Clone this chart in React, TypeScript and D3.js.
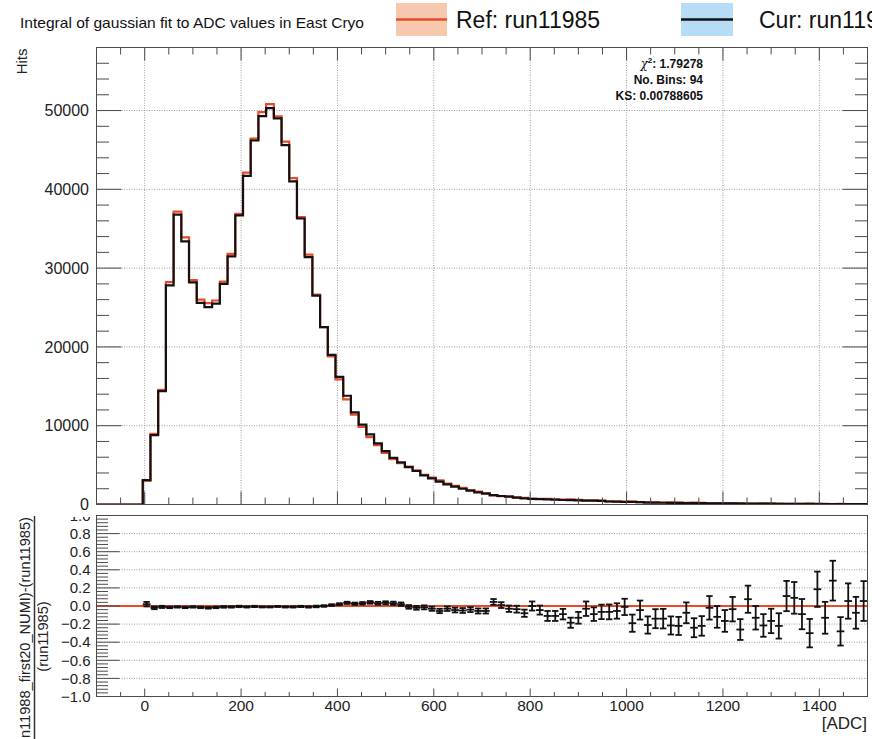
import React from 'react';
import * as d3 from 'd3';

const W = 872;
const H = 739;
const FONT = '"Liberation Sans", Arial, Helvetica, sans-serif';

// Binning: 100 bins of 16 ADC over [-100, 1500); bins below -4 are empty.
const binLow = -100;
const binWidth = 16;
const nBins = 100;
const firstFilled = 6;

// Current run counts per filled bin (bin [-4,12) first).
const curCounts = [
  3100, 8800, 14400, 27800, 36800, 33400, 28200, 25600, 25050, 25500,
  28000, 31500, 36700, 41700, 46200, 49300, 50300, 49000, 45600, 41000,
  36300, 31400, 26500, 22500, 19000, 16200, 13800, 11700, 10150, 8900,
  7750, 6780, 5930, 5350, 4750, 4250, 3700, 3320, 2900, 2560,
  2260, 2000, 1750, 1540, 1370, 1200, 1080, 990, 870, 780,
  720, 680, 640, 600, 570, 545, 520, 500, 480, 455,
  380, 360, 340, 320, 300, 250, 235, 220, 205, 195,
  185, 175, 165, 155, 147, 140, 132, 125, 118, 112,
  106, 100, 95, 88, 82, 77, 72, 68, 64, 60,
  57, 54, 51, 48,
];

// (cur - ref) / ref per filled bin.
const ratioValues = [
  0.02, -0.02, -0.01, -0.015, -0.01, -0.015, -0.01, -0.015, -0.02, -0.015,
  -0.01, -0.01, -0.005, -0.01, -0.005, -0.01, -0.01, -0.005, -0.01, -0.01,
  -0.005, -0.01, -0.005, 0.0, 0.01, 0.02, 0.035, 0.025, 0.03, 0.04,
  0.03, 0.035, 0.03, 0.02, -0.01, -0.02, -0.015, -0.03, -0.055, -0.03,
  -0.045, -0.05, -0.04, -0.055, -0.055, 0.045, 0.01, -0.03, -0.035, -0.08,
  0.0, -0.045, -0.11, -0.11, -0.09, -0.185, -0.13, -0.03, -0.09, -0.065,
  -0.065, -0.055, -0.01, -0.19, -0.045, -0.21, -0.14, -0.14, -0.215, -0.22,
  -0.075, -0.24, -0.22, -0.02, -0.12, -0.165, -0.035, -0.26, 0.075, -0.13,
  -0.215, -0.165, -0.22, 0.11, 0.09, -0.09, -0.3, 0.185, -0.13, 0.28,
  -0.28, 0.055, -0.075, 0.055,
];

// Uncertainty on the ratio per filled bin.
const ratioErrors = [
  0.025, 0.015, 0.012, 0.009, 0.008, 0.008, 0.008, 0.009, 0.009, 0.009,
  0.009, 0.008, 0.008, 0.007, 0.007, 0.006, 0.006, 0.006, 0.007, 0.007,
  0.007, 0.008, 0.009, 0.009, 0.01, 0.011, 0.012, 0.013, 0.014, 0.015,
  0.016, 0.017, 0.018, 0.019, 0.02, 0.021, 0.022, 0.023, 0.024, 0.025,
  0.026, 0.027, 0.027, 0.028, 0.028, 0.032, 0.032, 0.035, 0.038, 0.04,
  0.05, 0.05, 0.055, 0.055, 0.058, 0.056, 0.065, 0.08, 0.075, 0.08,
  0.082, 0.085, 0.09, 0.095, 0.105, 0.095, 0.105, 0.108, 0.1, 0.1,
  0.115, 0.105, 0.108, 0.13, 0.12, 0.12, 0.135, 0.115, 0.15, 0.13,
  0.125, 0.135, 0.14, 0.167, 0.175, 0.167, 0.157, 0.195, 0.176, 0.22,
  0.157, 0.195, 0.176, 0.22,
];

const xTickValues = [0, 200, 400, 600, 800, 1000, 1200, 1400];
const hitsTickValues = [0, 10000, 20000, 30000, 40000, 50000];
const ratioTickValues = [-1.0, -0.8, -0.6, -0.4, -0.2, 0.0, 0.2, 0.4, 0.6, 0.8, 1.0];

const titleText = 'Integral of gaussian fit to ADC values in East Cryo';
const refLabel = 'Ref: run11985';
const curLabel = 'Cur: run11988_first20_NUMI';
const statsChi2 = '1.79278';
const statsBins = '94';
const statsKS = '0.00788605';
const ratioTitleNum = '(run11988_first20_NUMI)-(run11985)';
const ratioTitleDen = '(run11985)';

const RED = '#ea4a28';
const INK = '#111';
const AXIS = '#4a4a4a';
const GRID = '#9c9c9c';

// Frame geometry
const fL = 96.5;
const fR = 867.5;
const topY0 = 47.5;
const topY1 = 504.5;
const botY0 = 515.5;
const botY1 = 696.5;

function range(a: number, b: number, step: number) {
  const out: number[] = [];
  for (let v = a; v <= b + 1e-9; v += step) out.push(Math.round(v * 1e6) / 1e6);
  return out;
}

export default function App() {
  const x = d3.scaleLinear().domain([-100, 1500]).range([fL, fR]);
  const yTop = d3.scaleLinear().domain([0, 58000]).range([topY1, topY0]);
  const yBot = d3.scaleLinear().domain([-1, 1]).range([botY1, botY0]);

  const refCounts = curCounts.map((c, i) => c / (1 + ratioValues[i]));

  const fullBins = (vals: number[]) => {
    const all = new Array(nBins).fill(0);
    vals.forEach((v, i) => (all[firstFilled + i] = v));
    return all;
  };
  const stepPath = (vals: number[]) => {
    const all = fullBins(vals);
    const pts: [number, number][] = all.map((v, k) => [binLow + k * binWidth, v]);
    pts.push([binLow + nBins * binWidth, all[nBins - 1]]);
    return d3
      .line<[number, number]>()
      .x((d) => x(d[0]))
      .y((d) => yTop(d[1]))
      .curve(d3.curveStepAfter)(pts) as string;
  };

  const xMinor = range(-100, 1500, 50);
  const hitsMinor = range(0, 56000, 2000);
  const ratioMinor = range(-1, 1, 0.04);
  const fmtRatio = d3.format('.1f');

  const centers = curCounts.map((_, i) => binLow + (firstFilled + i) * binWidth + binWidth / 2);

  return (
    <svg
      width={W}
      height={H}
      viewBox={`0 0 ${W} ${H}`}
      style={{ position: 'absolute', left: 0, top: 0, background: '#fff' }}
      fontFamily={FONT}
    >
      <defs>
        <clipPath id="botPadClip">
          <rect x={0} y={517} width={W} height={H - 517} />
        </clipPath>
        <clipPath id="topFrameClip">
          <rect x={fL} y={topY0} width={fR - fL} height={topY1 - topY0} />
        </clipPath>
      </defs>
      <rect x={0} y={0} width={W} height={H} fill="#fff" />

      {/* Title and legend */}
      <text x={20} y={27.5} fontSize={15} fill="#111" textLength={344} lengthAdjust="spacingAndGlyphs">
        {titleText}
      </text>
      <rect x={396} y={3} width={51} height={33} fill="#f6c9af" />
      <line x1={396} x2={447} y1={19.5} y2={19.5} stroke={RED} strokeWidth={2.5} />
      <text x={456} y={28} fontSize={23} fill="#111">{refLabel}</text>
      <rect x={681} y={3} width={52} height={33} fill="#b7dcf6" />
      <line x1={681} x2={733} y1={19.5} y2={19.5} stroke={INK} strokeWidth={2.5} />
      <text x={759} y={28} fontSize={23} fill="#111">{curLabel}</text>

      {/* ---------- Upper pad: hits ---------- */}
      <g stroke={GRID} strokeWidth={1} strokeDasharray="1 1.5">
        {xTickValues.map((v) => (
          <line key={`gx${v}`} x1={x(v)} x2={x(v)} y1={topY0} y2={topY1} />
        ))}
        {hitsTickValues.filter((v) => v > 0).map((v) => (
          <line key={`gy${v}`} x1={fL} x2={fR} y1={yTop(v)} y2={yTop(v)} />
        ))}
      </g>

      <g clipPath="url(#topFrameClip)" fill="none" strokeLinejoin="miter">
        <path d={stepPath(refCounts)} stroke={RED} strokeWidth={2.2} />
        <path d={stepPath(curCounts)} stroke={INK} strokeWidth={2.2} />
      </g>

      {/* frame and ticks */}
      <g stroke={AXIS} strokeWidth={1} fill="none">
        <rect x={fL} y={topY0} width={fR - fL} height={topY1 - topY0} />
        {xMinor.map((v) => {
          const major = v % 200 === 0;
          const len = major ? 13 : 7;
          return (
            <g key={`tx${v}`}>
              <line x1={x(v)} x2={x(v)} y1={topY1} y2={topY1 - len} />
              <line x1={x(v)} x2={x(v)} y1={topY0} y2={topY0 + len} />
            </g>
          );
        })}
        {hitsMinor.map((v) => {
          const major = v % 10000 === 0;
          const len = major ? 25 : 12.5;
          return (
            <g key={`ty${v}`}>
              <line x1={fL} x2={fL + len} y1={yTop(v)} y2={yTop(v)} />
              <line x1={fR} x2={fR - len} y1={yTop(v)} y2={yTop(v)} />
            </g>
          );
        })}
      </g>
      <g fontSize={16} fill="#222" textAnchor="end">
        {hitsTickValues.map((v) => (
          <text key={`ly${v}`} x={89} y={yTop(v)} dy="0.35em">{v}</text>
        ))}
      </g>
      <text
        transform={`translate(27, ${topY0 + 1}) rotate(-90)`}
        fontSize={15}
        fill="#222"
        textAnchor="end"
      >
        Hits
      </text>

      {/* statistics */}
      <g fontSize={12} fontWeight="bold" fill="#111" textAnchor="end">
        <text x={703} y={67.5}>
          <tspan fontWeight="normal" fontStyle="italic" fontFamily='"DejaVu Serif", serif'>χ</tspan>
          <tspan fontSize={8} dy={-5}>2</tspan>
          <tspan dy={5}>{`: ${statsChi2}`}</tspan>
        </text>
        <text x={703} y={83.5}>{`No. Bins: ${statsBins}`}</text>
        <text x={703} y={99.5}>{`KS: ${statsKS}`}</text>
      </g>

      {/* ---------- Lower pad: relative difference ---------- */}
      <g stroke={GRID} strokeWidth={1} strokeDasharray="1 1.5">
        {ratioTickValues.filter((v) => Math.abs(v) < 0.99 && v !== 0).map((v) => (
          <line key={`gr${v}`} x1={fL} x2={fR} y1={yBot(v)} y2={yBot(v)} />
        ))}
      </g>
      <line x1={fL} x2={fR} y1={yBot(0)} y2={yBot(0)} stroke={RED} strokeWidth={2} />

      <g stroke={INK} strokeWidth={1.8} fill="none">
        {centers.map((c, i) => {
          const r = ratioValues[i];
          const e = ratioErrors[i];
          const cx = x(c);
          const cap = 3.2;
          return (
            <g key={`pt${i}`}>
              <line x1={x(c - binWidth / 2)} x2={x(c + binWidth / 2)} y1={yBot(r)} y2={yBot(r)} />
              <line x1={cx} x2={cx} y1={yBot(r - e)} y2={yBot(r + e)} />
              <line x1={cx - cap} x2={cx + cap} y1={yBot(r - e)} y2={yBot(r - e)} />
              <line x1={cx - cap} x2={cx + cap} y1={yBot(r + e)} y2={yBot(r + e)} />
            </g>
          );
        })}
      </g>

      <g stroke={AXIS} strokeWidth={1} fill="none">
        <rect x={fL} y={botY0} width={fR - fL} height={botY1 - botY0} />
        {xMinor.map((v) => {
          const major = v % 200 === 0;
          const len = major ? 8 : 4.5;
          return <line key={`bx${v}`} x1={x(v)} x2={x(v)} y1={botY1} y2={botY1 - len} />;
        })}
        {ratioMinor.map((v, k) => {
          const major = k % 5 === 0;
          const len = major ? 23 : 11.5;
          return <line key={`by${k}`} x1={fL} x2={fL + len} y1={yBot(v)} y2={yBot(v)} />;
        })}
      </g>
      <g fontSize={15} fill="#222" textAnchor="end" clipPath="url(#botPadClip)">
        {ratioTickValues.map((v) => (
          <text key={`lr${v}`} x={90.5} y={yBot(v)} dy="0.35em">{fmtRatio(v)}</text>
        ))}
      </g>
      <g fontSize={15.5} fill="#222" textAnchor="middle">
        {xTickValues.map((v) => (
          <text key={`lx${v}`} x={x(v)} y={711}>{v}</text>
        ))}
      </g>
      <text x={867} y={729} fontSize={17} fill="#222" textAnchor="end">[ADC]</text>

      {/* ratio axis title as a fraction */}
      <g fill="#222" fontSize={14.6} textAnchor="middle">
        <text transform="translate(30, 636.5) rotate(-90)">{ratioTitleNum}</text>
        <text transform="translate(48, 636.5) rotate(-90)">{ratioTitleDen}</text>
      </g>
      <line x1={34.5} x2={34.5} y1={516} y2={757} stroke="#333" strokeWidth={1.5} />
    </svg>
  );
}
